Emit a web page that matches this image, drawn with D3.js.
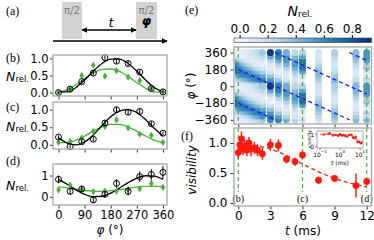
<!DOCTYPE html>
<html>
<head>
<meta charset="utf-8">
<script src="https://cdn.jsdelivr.net/npm/d3@7"></script>
<style>
  body { margin: 0; background: #fff; }
  svg { display: block; }
  text { font-family: "DejaVu Sans", sans-serif; }
</style>
</head>
<body>
<div id="container"></div>
<script>
let w = 374;
let h = 240;

// ---- data ----
// phase scans, panels (b) (c) (d)
let phis = [0, 40, 80, 120, 160, 200, 240, 280, 320, 360];
let bBlack = [0.0, 0.1, 0.32, 0.57, 1.02, 0.92, 0.85, 0.6, 0.12, 0.02];
let bBlackErr = [0.03, 0.04, 0.05, 0.06, 0.06, 0.07, 0.07, 0.06, 0.04, 0.03];
let bGreen = [0.0, 0.1, 0.5, 0.8, 0.48, 0.64, 0.45, 0.35, 0.12, 0.02];
let bGreenErr = [0.02, 0.04, 0.06, 0.07, 0.06, 0.06, 0.05, 0.05, 0.04, 0.03];
let cBlack = [0.22, -0.05, 0.09, 0.16, 0.62, 1.0, 0.93, 0.95, 0.6, 0.33];
let cBlackErr = [0.05, 0.05, 0.06, 0.07, 0.08, 0.08, 0.08, 0.08, 0.07, 0.05];
let cGreen = [0.07, 0.1, 0.2, 0.38, 0.52, 0.71, 0.48, 0.3, 0.27, 0.07];
let cGreenErr = [0.03, 0.04, 0.05, 0.06, 0.06, 0.07, 0.06, 0.05, 0.05, 0.03];
let dBlack = [0.82, 0.26, 0.37, -0.14, 0.12, 0.63, 0.26, 0.95, 1.05, 1.15];
let dBlackErr = [0.18, 0.15, 0.15, 0.15, 0.15, 0.2, 0.2, 0.25, 0.25, 0.3];
let dGreen = [0.33, 0.55, 0.35, 0.25, 0.27, 0.27, 0.35, 0.38, 0.63, 0.45];
let dGreenErr = [0.12, 0.12, 0.1, 0.1, 0.1, 0.1, 0.1, 0.12, 0.15, 0.12];

// fit curves sampled every 30 deg
let fitPhis = [0, 30, 60, 90, 120, 150, 180, 210, 240, 270, 300, 330, 360];
let bBlackFit = [0.02, 0.02, 0.15, 0.37, 0.63, 0.85, 0.98, 0.98, 0.85, 0.63, 0.37, 0.15, 0.02];
let bGreenFit = [0.01, 0.08, 0.23, 0.41, 0.57, 0.68, 0.69, 0.62, 0.47, 0.29, 0.13, 0.02, 0.01];
let cBlackFit = [0.2, 0.05, 0.0, 0.08, 0.28, 0.55, 0.8, 0.96, 1.0, 0.92, 0.72, 0.47, 0.25];
let cGreenFit = [0.06, 0.06, 0.13, 0.25, 0.39, 0.51, 0.58, 0.58, 0.51, 0.39, 0.25, 0.13, 0.06];
let dBlackFit = [0.82, 0.59, 0.33, 0.12, 0.01, 0.03, 0.18, 0.41, 0.67, 0.88, 0.99, 0.97, 0.82];
let dGreenFit = [0.47, 0.42, 0.36, 0.3, 0.27, 0.26, 0.29, 0.34, 0.4, 0.46, 0.49, 0.5, 0.47];

// visibility vs time, panel (f)
let times = [0, 0.15, 0.3, 0.45, 0.6, 0.8, 1.0, 1.2, 1.5, 1.8, 2.25, 3, 3.75, 4.5, 5.3, 6, 7.5, 9, 11, 12];
let visib = [0.84, 0.97, 1.07, 0.9, 0.95, 0.88, 1.0, 0.9, 0.92, 0.88, 0.82, 0.97, 0.96, 0.73, 0.69, 0.8, 0.38, 0.41, 0.29, 0.36];
let visibErr = [0.1, 0.12, 0.12, 0.1, 0.1, 0.1, 0.1, 0.12, 0.1, 0.1, 0.1, 0.1, 0.1, 0.07, 0.07, 0.06, 0.06, 0.05, 0.2, 0.05];
let fitT = [0.1, 1.5, 3, 4.5, 6, 7.5, 9, 10.5, 12];
let fitV = [1.0, 0.96, 0.9, 0.79, 0.65, 0.52, 0.41, 0.33, 0.27];

// heat map columns (one per time above), N_rel. at phis
let heatCols = [
  [0.0, 0.08, 0.25, 0.45, 0.72, 0.75, 0.68, 0.45, 0.1, 0.02],
  [0.04, 0.1, 0.28, 0.52, 0.7, 0.68, 0.55, 0.3, 0.1, 0.04],
  [0.05, 0.12, 0.32, 0.56, 0.72, 0.64, 0.48, 0.25, 0.08, 0.05],
  [0.06, 0.14, 0.36, 0.6, 0.68, 0.6, 0.44, 0.22, 0.08, 0.06],
  [0.08, 0.16, 0.4, 0.62, 0.68, 0.56, 0.38, 0.18, 0.06, 0.08],
  [0.08, 0.2, 0.44, 0.64, 0.64, 0.5, 0.32, 0.14, 0.06, 0.08],
  [0.1, 0.24, 0.48, 0.64, 0.6, 0.44, 0.26, 0.11, 0.06, 0.1],
  [0.12, 0.3, 0.54, 0.66, 0.56, 0.38, 0.2, 0.08, 0.08, 0.12],
  [0.16, 0.38, 0.6, 0.64, 0.48, 0.3, 0.14, 0.06, 0.1, 0.16],
  [0.22, 0.46, 0.64, 0.6, 0.4, 0.22, 0.1, 0.08, 0.14, 0.22],
  [0.32, 0.58, 0.66, 0.5, 0.3, 0.14, 0.06, 0.1, 0.22, 0.32],
  [0.6, 0.7, 0.56, 0.36, 0.16, 0.06, 0.08, 0.24, 0.48, 0.9],
  [0.64, 0.52, 0.32, 0.14, 0.06, 0.1, 0.26, 0.46, 0.64, 0.66],
  [0.44, 0.28, 0.14, 0.08, 0.12, 0.26, 0.42, 0.54, 0.56, 0.44],
  [0.24, 0.14, 0.12, 0.18, 0.3, 0.44, 0.54, 0.52, 0.4, 0.24],
  [0.18, 0.02, 0.07, 0.13, 0.5, 0.72, 0.7, 0.72, 0.48, 0.26],
  [0.15, 0.2, 0.3, 0.38, 0.4, 0.34, 0.24, 0.16, 0.13, 0.15],
  [0.28, 0.38, 0.4, 0.32, 0.22, 0.14, 0.12, 0.16, 0.24, 0.28],
  [0.4, 0.3, 0.2, 0.12, 0.1, 0.14, 0.24, 0.34, 0.42, 0.4],
  [0.4, 0.2, 0.24, 0.08, 0.12, 0.36, 0.28, 0.52, 0.56, 0.56]
];
// blue dashed phase lines: start t, start phi, end t, end phi
let lineT0 = [0, 3.46, 0, 10.4];
let lineP0 = [180, 360, -180, 360];
let lineT1 = [10.4, 12, 3.46, 12];
let lineP1 = [-360, -84, -360, 276];

// marked times and their panels
let markT = [0, 6, 12];
let markLabels = ["(b)", "(c)", "(d)"];

let phiTicks = [0, 90, 180, 270, 360];
let heatTicks = [360, 180, 0, -180, -360];
let tTicks = [0, 3, 6, 9, 12];
let cbarTicks = [0, 0.2, 0.4, 0.6, 0.8];

// ---- colours ----
let green = "#4cae3c";
let red = "#ff1a10";
let spine = "#a6a6a6";

let svg = d3.select("#container")
  .append("svg")
    .attr("width", w)
    .attr("height", h);

let defs = svg.append("defs");
defs.append("marker")
    .attr("id", "ah")
    .attr("viewBox", "0 0 10 10")
    .attr("refX", 9).attr("refY", 5)
    .attr("markerWidth", 6).attr("markerHeight", 6)
    .attr("markerUnits", "userSpaceOnUse")
    .attr("orient", "auto-start-reverse")
  .append("path")
    .attr("d", "M0,0 L10,5 L0,10 Z")
    .attr("fill", "black");

function label(x, y, s, size, anchor, fam){
  return svg.append("text")
    .attr("x", x).attr("y", y)
    .attr("font-size", size)
    .attr("text-anchor", anchor || "start")
    .attr("dominant-baseline", "central")
    .style("font-family", fam || "DejaVu Sans")
    .text(s);
}

// panel labels
let serif = "Liberation Serif";
label(6, 11, "(a)", 12, "start", serif);
label(6, 58, "(b)", 12, "start", serif);
label(6, 107, "(c)", 12, "start", serif);
label(6, 161, "(d)", 12, "start", serif);
label(185, 10, "(e)", 12, "start", serif);
label(181, 136, "(f)", 12, "start", serif);

// ---- panel (a): pulse sketch ----
let ga = svg.append("g");
ga.append("rect").attr("x", 62).attr("y", 2).attr("width", 20).attr("height", 37).attr("fill", "#d2d2d2");
ga.append("rect").attr("x", 136).attr("y", 2).attr("width", 21).attr("height", 37).attr("fill", "#d2d2d2");
ga.append("text").attr("x", 72).attr("y", 10).attr("text-anchor", "middle").attr("dominant-baseline", "central")
  .attr("font-size", 10).attr("fill", "#7a7a7a").text("\u03c0/2");
ga.append("text").attr("x", 146.5).attr("y", 10).attr("text-anchor", "middle").attr("dominant-baseline", "central")
  .attr("font-size", 10).attr("fill", "#7a7a7a").text("\u03c0/2");
ga.append("text").attr("x", 146.5).attr("y", 21).attr("text-anchor", "middle").attr("dominant-baseline", "central")
  .attr("font-size", 12).attr("font-style", "italic").attr("font-weight", "bold").text("\u03c6");
ga.append("text").attr("x", 111).attr("y", 22).attr("text-anchor", "middle").attr("dominant-baseline", "central")
  .attr("font-size", 13).attr("font-style", "italic").text("t");
ga.append("line").attr("x1", 53).attr("x2", 167).attr("y1", 41).attr("y2", 41)
  .attr("stroke", "black").attr("stroke-width", 1.5).attr("marker-end", "url(#ah)");
ga.append("line").attr("x1", 82).attr("x2", 136).attr("y1", 30).attr("y2", 30)
  .attr("stroke", "black").attr("stroke-width", 1.5)
  .attr("marker-start", "url(#ah)").attr("marker-end", "url(#ah)");

// ---- panels (b) (c) (d) ----
let xPhi = d3.scaleLinear().domain([-19, 374]).range([53, 167]);

function nrelLabel(y){
  let t = svg.append("text").attr("x", 29).attr("y", y).attr("text-anchor", "end")
    .attr("dominant-baseline", "central").attr("font-size", 12.5);
  t.append("tspan").attr("font-style", "italic").text("N");
  t.append("tspan").attr("font-size", 8.5).attr("dy", 3).text("rel.");
}

function drawPhasePanel(top, bottom, yDomain, yTicks, fmt, black, blackErr, green2, greenErr, blackFit, greenFit, showX){
  let y = d3.scaleLinear().domain(yDomain).range([bottom, top]);
  let g = svg.append("g");

  let yAxis = g.append("g").attr("transform", "translate(53,0)")
    .call(d3.axisLeft(y).tickValues(yTicks).tickFormat(d3.format(fmt)).tickSize(3).tickPadding(1.5));
  let xAxis = g.append("g").attr("transform", "translate(0," + bottom + ")")
    .call(d3.axisBottom(xPhi).tickValues(phiTicks).tickSize(3.5).tickPadding(2).tickFormat(showX ? d3.format("d") : ""));
  [yAxis, xAxis].forEach(function(a){
    a.select(".domain").remove();
    a.selectAll("text").attr("font-size", 11.5).style("font-family", "DejaVu Sans");
    a.selectAll("line").attr("stroke", "#333");
  });

  let line = d3.line().curve(d3.curveMonotoneX)
    .x(function(d){ return xPhi(d[0]); })
    .y(function(d){ return y(d[1]); });

  g.append("path").datum(d3.zip(fitPhis, greenFit)).attr("d", line)
    .attr("fill", "none").attr("stroke", green).attr("stroke-width", 1.3);
  g.append("path").datum(d3.zip(fitPhis, blackFit)).attr("d", line)
    .attr("fill", "none").attr("stroke", "black").attr("stroke-width", 1.3);

  // green: error bars + thin diamonds
  g.selectAll(".ge").data(d3.zip(phis, green2, greenErr)).enter().append("line")
    .attr("x1", function(d){ return xPhi(d[0]); }).attr("x2", function(d){ return xPhi(d[0]); })
    .attr("y1", function(d){ return y(d[1] - d[2]); }).attr("y2", function(d){ return y(d[1] + d[2]); })
    .attr("stroke", green).attr("stroke-width", 1.5);
  g.selectAll(".gm").data(d3.zip(phis, green2)).enter().append("path")
    .attr("d", "M0,-3.6 L2.3,0 L0,3.6 L-2.3,0 Z")
    .attr("transform", function(d){ return "translate(" + xPhi(d[0]) + "," + y(d[1]) + ")"; })
    .attr("fill", green);

  // black: error bars + open circles
  g.selectAll(".be").data(d3.zip(phis, black, blackErr)).enter().append("line")
    .attr("x1", function(d){ return xPhi(d[0]); }).attr("x2", function(d){ return xPhi(d[0]); })
    .attr("y1", function(d){ return y(d[1] - d[2]); }).attr("y2", function(d){ return y(d[1] + d[2]); })
    .attr("stroke", "black").attr("stroke-width", 1);
  g.selectAll(".bm").data(d3.zip(phis, black)).enter().append("circle")
    .attr("cx", function(d){ return xPhi(d[0]); })
    .attr("cy", function(d){ return y(d[1]); })
    .attr("r", 3).attr("fill", "none").attr("stroke", "black").attr("stroke-width", 1);

  g.append("rect").attr("x", 53).attr("y", top).attr("width", 114).attr("height", bottom - top)
    .attr("fill", "none").attr("stroke", spine).attr("stroke-width", 1.3);

  nrelLabel((top + bottom) / 2);
}

drawPhasePanel(55, 96, [-0.1, 1.1], [0, 0.5, 1], ".1f", bBlack, bBlackErr, bGreen, bGreenErr, bBlackFit, bGreenFit, false);
drawPhasePanel(102, 149, [-0.12, 1.22], [0, 0.5, 1], ".1f", cBlack, cBlackErr, cGreen, cGreenErr, cBlackFit, cGreenFit, false);
drawPhasePanel(164, 205, [-0.38, 1.54], [0, 1], "d", dBlack, dBlackErr, dGreen, dGreenErr, dBlackFit, dGreenFit, true);

let xl = svg.append("text").attr("x", 110).attr("y", 230).attr("text-anchor", "middle")
  .attr("dominant-baseline", "central").attr("font-size", 12);
xl.append("tspan").attr("font-style", "italic").text("\u03c6");
xl.append("tspan").text(" (\u00b0)");

// ---- panel (e): heat map ----
let xT = d3.scaleLinear().domain([-0.4, 12.45]).range([234, 371.5]);
let yHeat = d3.scaleLinear().domain([-405, 420]).range([124, 47]);
let cScale = d3.scaleSequential(d3.interpolateBlues).domain([-0.04, 0.94]);

defs.append("clipPath").attr("id", "heatclip")
  .append("rect").attr("x", 234).attr("y", 47).attr("width", 137.5).attr("height", 77);

let dots = [];
times.forEach(function(t, i){
  heatCols[i].forEach(function(v, k){
    dots.push({ t: t, p: phis[k], v: v });
    dots.push({ t: t, p: phis[k] - 360, v: v });
  });
});

let ge = svg.append("g");
ge.append("g").attr("clip-path", "url(#heatclip)")
  .selectAll("circle").data(dots).enter().append("circle")
    .attr("cx", function(d){ return xT(d.t); })
    .attr("cy", function(d){ return yHeat(d.p); })
    .attr("r", 3.5)
    .attr("fill", function(d){ return cScale(Math.max(-0.04, Math.min(0.94, d.v))); });

ge.selectAll(".gv").data(markT).enter().append("line")
  .attr("x1", function(d){ return xT(d); }).attr("x2", function(d){ return xT(d); })
  .attr("y1", 47).attr("y2", 124)
  .attr("stroke", green).attr("stroke-width", 1.2).attr("stroke-dasharray", "4,3");

ge.append("g").attr("clip-path", "url(#heatclip)")
  .selectAll("line").data(d3.range(lineT0.length)).enter().append("line")
    .attr("x1", function(i){ return xT(lineT0[i]); })
    .attr("y1", function(i){ return yHeat(lineP0[i]); })
    .attr("x2", function(i){ return xT(lineT1[i]); })
    .attr("y2", function(i){ return yHeat(lineP1[i]); })
    .attr("stroke", "#1515ff").attr("stroke-width", 1.3).attr("stroke-dasharray", "4,3");

let heY = ge.append("g").attr("transform", "translate(234,0)")
  .call(d3.axisLeft(yHeat).tickValues(heatTicks).tickSize(3.5).tickPadding(3)
    .tickFormat(function(d){ return d < 0 ? "\u2212" + Math.abs(d) : d; }));
let heX = ge.append("g").attr("transform", "translate(0,124)")
  .call(d3.axisBottom(xT).tickValues(tTicks).tickSize(3.5).tickFormat(""));
[heY, heX].forEach(function(a){
  a.select(".domain").remove();
  a.selectAll("text").attr("font-size", 12).style("font-family", "DejaVu Sans");
  a.selectAll("line").attr("stroke", "#333");
});
ge.append("rect").attr("x", 234).attr("y", 47).attr("width", 137.5).attr("height", 77)
  .attr("fill", "none").attr("stroke", spine).attr("stroke-width", 1.3);

let yl = svg.append("text").attr("transform", "translate(191,86) rotate(-90)").attr("text-anchor", "middle")
  .attr("dominant-baseline", "central").attr("font-size", 12);
yl.append("tspan").attr("font-style", "italic").text("\u03c6");
yl.append("tspan").text(" (\u00b0)");

// colour bar
let cbX = d3.scaleLinear().domain([-0.04, 0.94]).range([234, 371.5]);
let grad = defs.append("linearGradient").attr("id", "cbar");
d3.range(0, 1.0001, 0.1).forEach(function(f){
  grad.append("stop").attr("offset", f).attr("stop-color", cScale(-0.04 + f * 0.98));
});
svg.append("rect").attr("x", 234).attr("y", 38).attr("width", 137.5).attr("height", 4.5)
  .attr("fill", "url(#cbar)").attr("stroke", "#333").attr("stroke-width", 0.6);
let cbAxis = svg.append("g").attr("transform", "translate(0,38)")
  .call(d3.axisTop(cbX).tickValues(cbarTicks).tickSize(3).tickPadding(2).tickFormat(d3.format(".1f")));
cbAxis.select(".domain").remove();
cbAxis.selectAll("text").attr("font-size", 12).style("font-family", "DejaVu Sans");
let cbt = svg.append("text").attr("x", 300).attr("y", 11).attr("text-anchor", "middle")
  .attr("dominant-baseline", "central").attr("font-size", 14);
cbt.append("tspan").attr("font-style", "italic").text("N");
cbt.append("tspan").attr("font-size", 9).attr("dy", 3).text("rel.");

// ---- panel (f): visibility ----
let yV = d3.scaleLinear().domain([-0.05, 1.25]).range([206, 128]);
let gf = svg.append("g");

gf.selectAll(".gv").data(markT).enter().append("line")
  .attr("x1", function(d){ return xT(d); }).attr("x2", function(d){ return xT(d); })
  .attr("y1", 128).attr("y2", 206)
  .attr("stroke", green).attr("stroke-width", 1.2).attr("stroke-dasharray", "4,3");

let fitLine = d3.line().curve(d3.curveMonotoneX)
  .x(function(d){ return xT(d[0]); }).y(function(d){ return yV(d[1]); });
gf.append("path").datum(d3.zip(fitT, fitV)).attr("d", fitLine)
  .attr("fill", "none").attr("stroke", red).attr("stroke-width", 1.3).attr("stroke-dasharray", "4,3");

gf.selectAll(".fe").data(d3.zip(times, visib, visibErr)).enter().append("line")
  .attr("x1", function(d){ return xT(d[0]); }).attr("x2", function(d){ return xT(d[0]); })
  .attr("y1", function(d){ return yV(d[1] - d[2]); }).attr("y2", function(d){ return yV(d[1] + d[2]); })
  .attr("stroke", red).attr("stroke-width", 1.5);
gf.selectAll(".fm").data(d3.zip(times, visib)).enter().append("circle")
  .attr("cx", function(d){ return xT(d[0]); }).attr("cy", function(d){ return yV(d[1]); })
  .attr("r", 3.4).attr("fill", red);

markT.forEach(function(t, i){
  gf.append("rect").attr("x", xT(t) - 6.5).attr("y", 192).attr("width", 13).attr("height", 12).attr("fill", "white");
  gf.append("text").attr("x", xT(t)).attr("y", 198).attr("text-anchor", "middle")
    .attr("dominant-baseline", "central").attr("font-size", 10).style("font-family", serif).text(markLabels[i]);
});

let fY = gf.append("g").attr("transform", "translate(234,0)")
  .call(d3.axisLeft(yV).tickValues([0, 0.5, 1]).tickFormat(d3.format(".1f")).tickSize(3.5).tickPadding(3));
let fX = gf.append("g").attr("transform", "translate(0,206)")
  .call(d3.axisBottom(xT).tickValues(tTicks).tickSize(3.5).tickPadding(2));
[fY, fX].forEach(function(a){
  a.select(".domain").remove();
  a.selectAll("text").attr("font-size", 12).style("font-family", "DejaVu Sans");
  a.selectAll("line").attr("stroke", "#333");
});

// inset, log time axis
let xLog = d3.scaleLog().domain([0.07, 14]).range([317, 363]);
let yIn = d3.scaleLinear().domain([-0.08, 1.25]).range([148, 131]);
let gi = gf.append("g");
gi.append("rect").attr("x", 317).attr("y", 131).attr("width", 46).attr("height", 17)
  .attr("fill", "white").attr("stroke", spine).attr("stroke-width", 1);
let logLine = d3.line().x(function(d){ return xLog(d[0]); }).y(function(d){ return yIn(d[1]); });
gi.append("path").datum(d3.zip(times, visib).filter(function(d){ return d[0] > 0; })).attr("d", logLine)
  .attr("fill", "none").attr("stroke", red).attr("stroke-width", 0.8);
gi.append("path").datum(d3.zip(fitT, fitV)).attr("d", logLine)
  .attr("fill", "none").attr("stroke", red).attr("stroke-width", 0.8).attr("stroke-dasharray", "2,1.5");
gi.selectAll("circle").data(d3.zip(times, visib).filter(function(d){ return d[0] > 0; })).enter().append("circle")
  .attr("cx", function(d){ return xLog(d[0]); }).attr("cy", function(d){ return yIn(d[1]); })
  .attr("r", 1.2).attr("fill", red);
[[0.1, "\u22121"], [1, "0"], [10, "1"]].forEach(function(tk){
  gi.append("line").attr("x1", xLog(tk[0])).attr("x2", xLog(tk[0])).attr("y1", 148).attr("y2", 150)
    .attr("stroke", "#333").attr("stroke-width", 0.6);
  let tx = gi.append("text").attr("x", xLog(tk[0])).attr("y", 153.5).attr("text-anchor", "middle")
    .attr("dominant-baseline", "central").attr("font-size", 6);
  tx.append("tspan").text("10");
  tx.append("tspan").attr("font-size", 4.2).attr("dy", -2.5).text(tk[1]);
});
[[0, "0"], [1, "1"]].forEach(function(tk){
  gi.append("line").attr("x1", 315).attr("x2", 317).attr("y1", yIn(tk[0])).attr("y2", yIn(tk[0]))
    .attr("stroke", "#333").attr("stroke-width", 0.6);
  gi.append("text").attr("x", 314).attr("y", yIn(tk[0])).attr("text-anchor", "end")
    .attr("dominant-baseline", "central").attr("font-size", 6).text(tk[1]);
});
gi.append("text").attr("transform", "translate(309,139) rotate(-90)").attr("text-anchor", "middle")
  .attr("dominant-baseline", "central").attr("font-size", 4.5).attr("font-style", "italic").text("visibility");
let itl = gi.append("text").attr("x", 340).attr("y", 162).attr("text-anchor", "middle")
  .attr("dominant-baseline", "central").attr("font-size", 6);
itl.append("tspan").attr("font-style", "italic").text("t");
itl.append("tspan").text(" (ms)");

gf.append("rect").attr("x", 234).attr("y", 128).attr("width", 137.5).attr("height", 78)
  .attr("fill", "none").attr("stroke", spine).attr("stroke-width", 1.3);

svg.append("text").attr("transform", "translate(192,170) rotate(-90)").attr("text-anchor", "middle")
  .attr("dominant-baseline", "central").attr("font-size", 12).attr("font-style", "italic").text("visibility");
let tl = svg.append("text").attr("x", 303).attr("y", 231).attr("text-anchor", "middle")
  .attr("dominant-baseline", "central").attr("font-size", 12);
tl.append("tspan").attr("font-style", "italic").text("t");
tl.append("tspan").text(" (ms)");
</script>
</body>
</html>
